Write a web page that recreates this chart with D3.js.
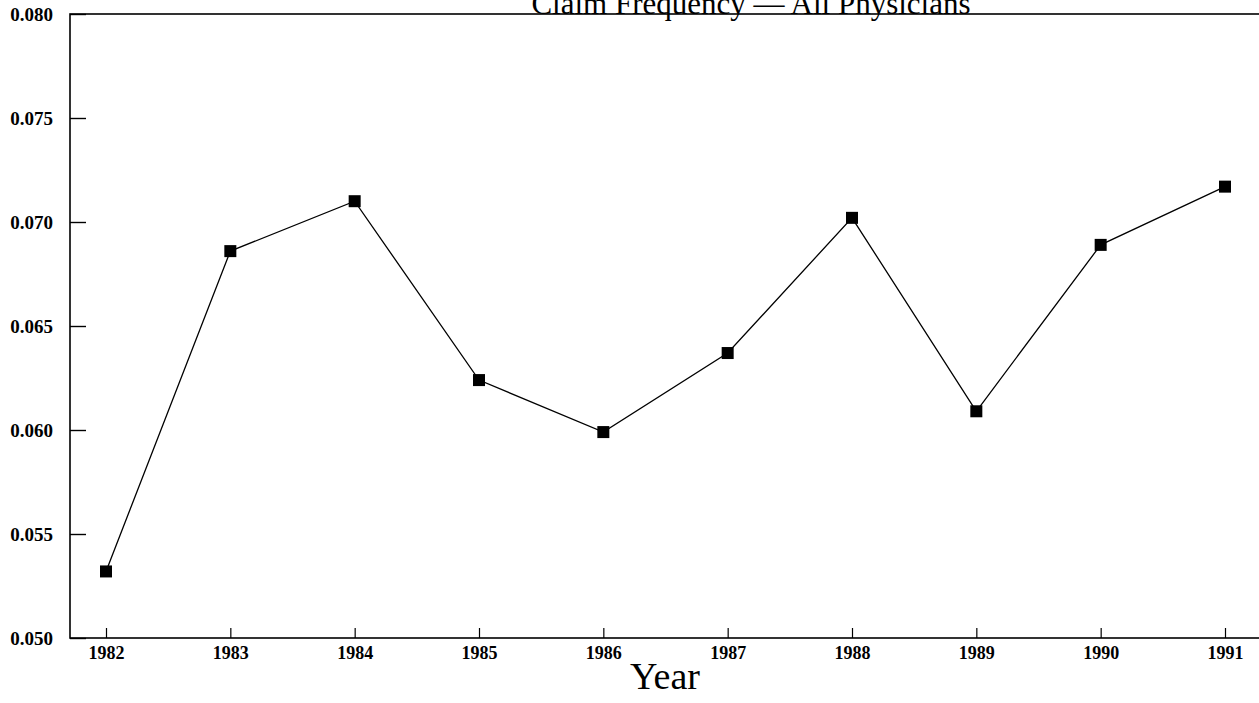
<!DOCTYPE html>
<html>
<head>
<meta charset="utf-8">
<script src="https://cdn.jsdelivr.net/npm/d3@7"></script>
<style>
  body { margin: 0; background: #fff; }
  svg { display: block; }
</style>
</head>
<body>
<svg id="canvas" width="1259" height="703"></svg>
<script>
// values
let years = [1982, 1983, 1984, 1985, 1986, 1987, 1988, 1989, 1990, 1991]
let claimFreq = [0.0532, 0.0686, 0.0710, 0.0624, 0.0599, 0.0637, 0.0702, 0.0609, 0.0689, 0.0717]
let yTicks = [0.050, 0.055, 0.060, 0.065, 0.070, 0.075, 0.080]
let titleText = 'Claim Frequency \u2014 All Physicians'
let xTitle = 'Year'

let canvas = d3.select('#canvas')

let plotLeft = 70
let plotRight = 1259
let plotTop = 14
let plotBottom = 638

let xScale = d3.scaleLinear()
               .domain([1982, 1991])
               .range([106, 1225])

let yScale = d3.scaleLinear()
               .domain([0.050, 0.080])
               .range([plotBottom, plotTop])

// title, the top of it runs off the page like in the scan
canvas.append('text')
      .attr('x', 751)
      .attr('y', 14)
      .attr('text-anchor', 'middle')
      .style('font-family', '"Liberation Serif", "Times New Roman", serif')
      .style('font-size', '31px')
      .text(titleText)

// frame
canvas.append('rect')
      .attr('x', plotLeft)
      .attr('y', plotTop)
      .attr('width', plotRight - plotLeft + 2)
      .attr('height', plotBottom - plotTop)
      .attr('fill', 'none')
      .attr('stroke', '#000')
      .attr('stroke-width', 1.6)

// y axis, ticks point inward
let yAxis = d3.axisRight(yScale)
              .tickValues(yTicks)
              .tickSize(16)
              .tickFormat(d3.format('.3f'))

let yG = canvas.append('g')
               .attr('transform', 'translate(' + plotLeft + ',0)')
               .call(yAxis)
yG.select('.domain').remove()
yG.selectAll('line').attr('stroke-width', 1.4)
yG.selectAll('text')
  .attr('x', -17)
  .attr('dy', '0.35em')
  .attr('text-anchor', 'end')
  .style('font-family', '"Liberation Serif", "Times New Roman", serif')
  .style('font-weight', 'bold')
  .style('font-size', '19px')
  .attr('fill', '#000')

// x axis, ticks point up into plot
let xAxis = d3.axisBottom(xScale)
              .tickValues(years)
              .tickSize(-10)
              .tickFormat(d3.format('d'))

let xG = canvas.append('g')
               .attr('transform', 'translate(0,' + plotBottom + ')')
               .call(xAxis)
xG.select('.domain').remove()
xG.selectAll('line').attr('stroke-width', 1.2)
xG.selectAll('text')
  .attr('y', 8)
  .attr('dy', '0.71em')
  .style('font-family', '"Liberation Serif", "Times New Roman", serif')
  .style('font-weight', 'bold')
  .style('font-size', '18px')
  .attr('fill', '#000')

// series line
let points = years.map((yr, i) => [yr, claimFreq[i]])

let line = d3.line()
             .x((d) => xScale(d[0]))
             .y((d) => yScale(d[1]))

canvas.append('path')
      .datum(points)
      .attr('d', line)
      .attr('fill', 'none')
      .attr('stroke', '#000')
      .attr('stroke-width', 1.3)

let markSize = 12
canvas.selectAll('.mark')
      .data(points)
      .enter()
      .append('rect')
      .attr('class', 'mark')
      .attr('x', (d) => xScale(d[0]) - markSize / 2)
      .attr('y', (d) => yScale(d[1]) - markSize / 2)
      .attr('width', markSize)
      .attr('height', markSize)
      .attr('fill', '#000')

canvas.append('text')
      .attr('x', 665)
      .attr('y', 689)
      .attr('text-anchor', 'middle')
      .style('font-family', '"Liberation Serif", "Times New Roman", serif')
      .style('font-size', '38px')
      .text(xTitle)
</script>
</body>
</html>
